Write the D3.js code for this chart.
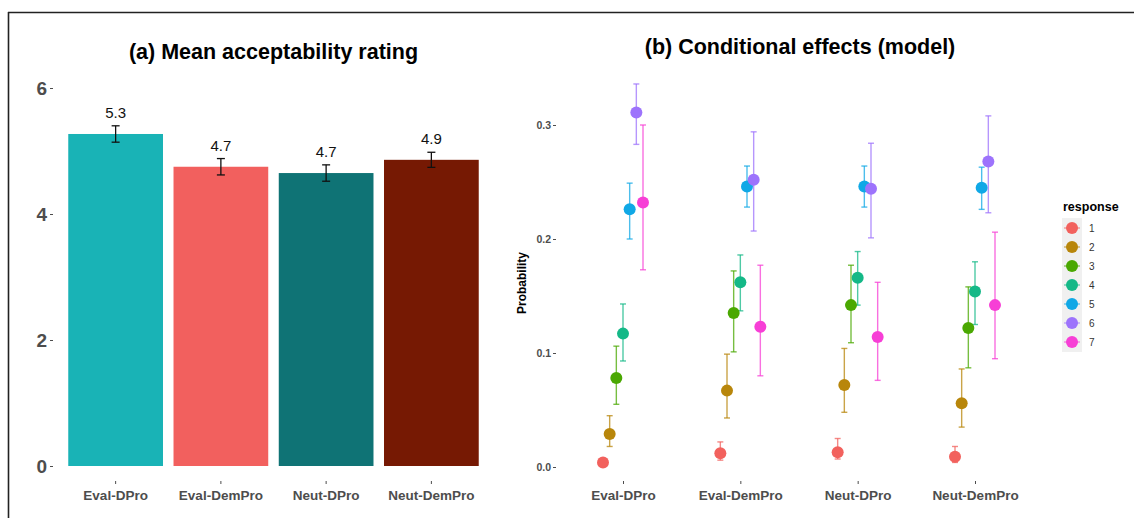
<!DOCTYPE html>
<html><head><meta charset="utf-8">
<script src="https://cdn.jsdelivr.net/npm/d3@7"></script>
<style>body{margin:0;background:#fff}svg{display:block;font-family:"Liberation Sans",Arial,sans-serif}</style>
</head><body><svg id="c" width="1134" height="518"></svg>
<script>
// ---- Data ----
const categories = ["Eval-DPro","Eval-DemPro","Neut-DPro","Neut-DemPro"];
const barMeans = [5.27, 4.75, 4.65, 4.86];
const barSE = [0.13, 0.13, 0.13, 0.12];
const barLabels = ["5.3","4.7","4.7","4.9"];
const barColors = ["#19b3b6","#f2605e","#0f7375","#761903"];
const leftTicks = [0,2,4,6];

const responses = ["1","2","3","4","5","6","7"];
const respColors = ["#f2615d","#b8860b","#4aa802","#14b887","#10a8e6","#9d73fc","#f73fd6"];
// probabilities [category][response]
const probEst = [
  [0.004,0.029,0.078,0.117,0.226,0.311,0.232],
  [0.012,0.067,0.135,0.162,0.246,0.252,0.123],
  [0.013,0.072,0.142,0.166,0.246,0.244,0.114],
  [0.009,0.056,0.122,0.154,0.245,0.268,0.142]
];
const probLo = [
  [0.003,0.018,0.055,0.093,0.200,0.283,0.173],
  [0.006,0.043,0.101,0.137,0.228,0.207,0.080],
  [0.007,0.048,0.109,0.142,0.228,0.201,0.076],
  [0.004,0.035,0.087,0.125,0.226,0.223,0.095]
];
const probHi = [
  [0.005,0.045,0.106,0.143,0.249,0.336,0.300],
  [0.022,0.099,0.172,0.186,0.264,0.294,0.177],
  [0.025,0.104,0.177,0.189,0.264,0.284,0.162],
  [0.018,0.086,0.158,0.180,0.263,0.308,0.206]
];
const rightTicks = [0.0,0.1,0.2,0.3];

const svg = d3.select("#c");
const axisGray = "#4d4d4d";

// frame lines
svg.append("line").attr("x1",8).attr("x2",1134).attr("y1",12.5).attr("y2",12.5).attr("stroke","#222").attr("stroke-width",1.6);
svg.append("line").attr("x1",8.5).attr("x2",8.5).attr("y1",12).attr("y2",518).attr("stroke","#222").attr("stroke-width",1.6);

// ---- Panel (a) ----
const xA = d3.scaleBand().domain(categories).range([63,484]).paddingInner(0.1).paddingOuter(0.05);
const yA = d3.scaleLinear().domain([0,6]).range([466,88]);

svg.append("text").attr("x",273.5).attr("y",59).attr("text-anchor","middle")
  .attr("font-size",21.5).attr("font-weight","bold").attr("fill","#000").text("(a) Mean acceptability rating");

const gA = svg.append("g");
gA.selectAll("rect.bar").data(categories).join("rect")
  .attr("x",d=>xA(d)).attr("width",xA.bandwidth())
  .attr("y",(d,i)=>yA(barMeans[i])).attr("height",(d,i)=>yA(0)-yA(barMeans[i]))
  .attr("fill",(d,i)=>barColors[i]);
// error bars
categories.forEach((c,i)=>{
  const cx = xA(c)+xA.bandwidth()/2;
  const g = gA.append("g").attr("stroke","#111").attr("stroke-width",1.3);
  g.append("line").attr("x1",cx).attr("x2",cx).attr("y1",yA(barMeans[i]+barSE[i])).attr("y2",yA(barMeans[i]-barSE[i]));
  [barMeans[i]+barSE[i], barMeans[i]-barSE[i]].forEach(v=>{
    g.append("line").attr("x1",cx-4).attr("x2",cx+4).attr("y1",yA(v)).attr("y2",yA(v));
  });
  gA.append("text").attr("x",cx).attr("y",yA(barMeans[i]+barSE[i])-8).attr("text-anchor","middle")
    .attr("font-size",15).attr("fill","#111").text(barLabels[i]);
});
// y axis (a)
const axA = d3.axisLeft(yA).tickValues(leftTicks).tickFormat(d3.format("d")).tickSize(3).tickPadding(3);
const gyA = svg.append("g").attr("transform","translate(53,0)").call(axA);
gyA.select(".domain").remove();
gyA.selectAll(".tick line").attr("stroke",axisGray);
gyA.selectAll(".tick text").attr("font-size",19).attr("font-weight","bold").attr("fill",axisGray).attr("font-family","Liberation Sans, Arial, sans-serif");
// x axis (a)
const axXA = d3.axisBottom(xA).tickSize(3).tickPadding(6);
const gxA = svg.append("g").attr("transform","translate(0,481)").call(axXA);
gxA.select(".domain").remove();
gxA.selectAll(".tick line").attr("stroke",axisGray);
gxA.selectAll(".tick text").attr("font-size",13.5).attr("font-weight","bold").attr("fill",axisGray).attr("font-family","Liberation Sans, Arial, sans-serif");

// ---- Panel (b) ----
const xB = d3.scalePoint().domain(categories).range([623,975]);
const yB = d3.scaleLinear().domain([0,0.3]).range([467,125]);
const dodge = d3.scalePoint().domain(responses).range([-20,20]);

svg.append("text").attr("x",800).attr("y",54).attr("text-anchor","middle")
  .attr("font-size",21.5).attr("font-weight","bold").attr("fill","#000").text("(b) Conditional effects (model)");

const gB = svg.append("g");
categories.forEach((c,ci)=>{
  responses.forEach((r,ri)=>{
    const cx = xB(c)+dodge(r);
    const col = respColors[ri];
    const g = gB.append("g").attr("stroke",col).attr("stroke-width",1.4).attr("stroke-opacity",0.75);
    g.append("line").attr("x1",cx).attr("x2",cx).attr("y1",yB(probHi[ci][ri])).attr("y2",yB(probLo[ci][ri]));
    [probHi[ci][ri],probLo[ci][ri]].forEach(v=>{
      g.append("line").attr("x1",cx-3).attr("x2",cx+3).attr("y1",yB(v)).attr("y2",yB(v));
    });
  });
});
categories.forEach((c,ci)=>{
  responses.forEach((r,ri)=>{
    gB.append("circle").attr("cx",xB(c)+dodge(r)).attr("cy",yB(probEst[ci][ri])).attr("r",6).attr("fill",respColors[ri]);
  });
});
// y axis (b)
const axB = d3.axisLeft(yB).tickValues(rightTicks).tickFormat(d3.format(".1f")).tickSize(3).tickPadding(2);
const gyB = svg.append("g").attr("transform","translate(556,0)").call(axB);
gyB.select(".domain").remove();
gyB.selectAll(".tick line").attr("stroke",axisGray);
gyB.selectAll(".tick text").attr("font-size",10.5).attr("font-weight","bold").attr("fill",axisGray).attr("font-family","Liberation Sans, Arial, sans-serif");
svg.append("text").attr("transform","translate(526,283) rotate(-90)").attr("text-anchor","middle")
  .attr("font-size",12).attr("font-weight","bold").attr("fill","#000").text("Probability");
// x axis (b)
const axXB = d3.axisBottom(xB).tickSize(3).tickPadding(6);
const gxB = svg.append("g").attr("transform","translate(0,481)").call(axXB);
gxB.select(".domain").remove();
gxB.selectAll(".tick line").attr("stroke",axisGray);
gxB.selectAll(".tick text").attr("font-size",13.5).attr("font-weight","bold").attr("fill",axisGray).attr("font-family","Liberation Sans, Arial, sans-serif");

// legend
const lg = svg.append("g");
lg.append("text").attr("x",1063).attr("y",211).attr("font-size",12.5).attr("font-weight","bold").attr("fill","#000").text("response");
lg.append("rect").attr("x",1062).attr("y",218).attr("width",20).attr("height",134).attr("fill","#f0f0f0");
const ly = d3.scalePoint().domain(responses).range([228,342]);
responses.forEach((r,i)=>{
  const y = ly(r);
  lg.append("line").attr("x1",1064).attr("x2",1080).attr("y1",y).attr("y2",y).attr("stroke",respColors[i]).attr("stroke-width",1.2).attr("stroke-opacity",0.7);
  lg.append("circle").attr("cx",1072).attr("cy",y).attr("r",6).attr("fill",respColors[i]);
  lg.append("text").attr("x",1089).attr("y",y+3.5).attr("font-size",10).attr("fill","#333").text(r);
});
</script>
</body></html>
